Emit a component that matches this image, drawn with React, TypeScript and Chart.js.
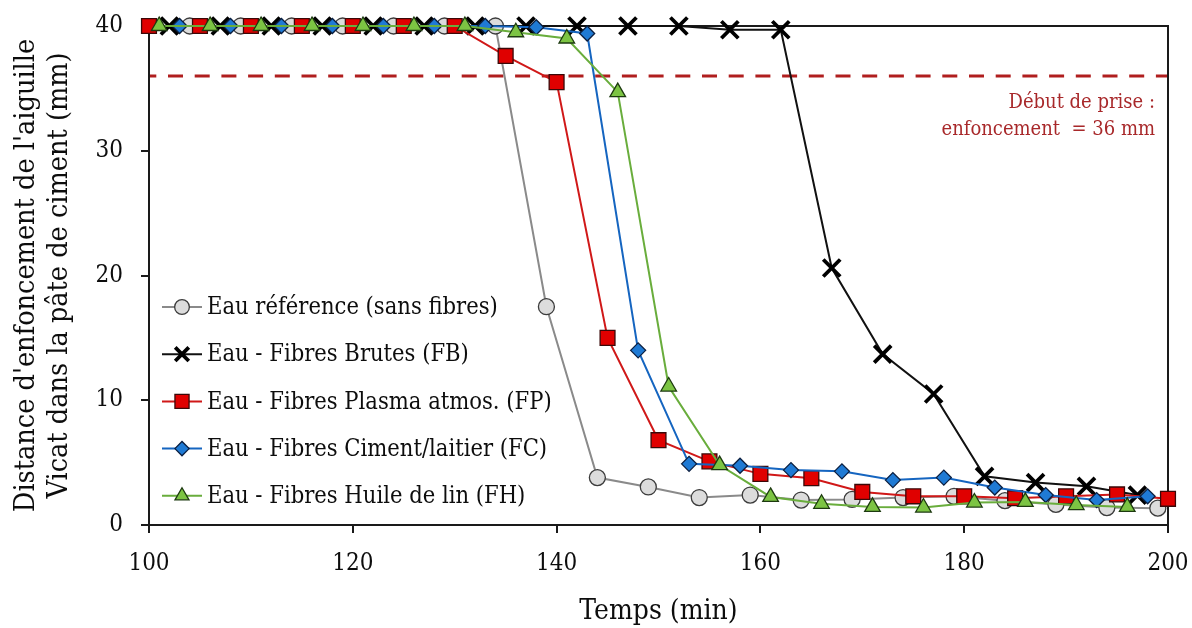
import React, { useEffect, useRef } from "react";
import { Chart, registerables } from "chart.js";
import { drawPoint } from "chart.js/helpers";

Chart.register(...registerables);

// ---------- Data ----------
const refTimes = [104, 109, 114, 119, 124, 129, 134, 139, 144, 149, 154, 159, 164, 169, 174, 179, 184, 189, 194, 199];
const refValues = [40, 40, 40, 40, 40, 40, 40, 17.5, 3.8, 3.05, 2.2, 2.4, 2.0, 2.05, 2.2, 2.3, 1.95, 1.65, 1.4, 1.35];

const fbTimes = [102, 107, 112, 117, 122, 127, 132, 137, 142, 147, 152, 157, 162, 167, 172, 177, 182, 187, 192, 197];
const fbValues = [40, 40, 40, 40, 40, 40, 40, 40, 40, 40, 40, 39.7, 39.7, 20.6, 13.7, 10.5, 3.9, 3.4, 3.1, 2.4];

const fpTimes = [100, 105, 110, 115, 120, 125, 130, 135, 140, 145, 150, 155, 160, 165, 170, 175, 180, 185, 190, 195, 200];
const fpValues = [40, 40, 40, 40, 40, 40, 40, 37.6, 35.5, 15.0, 6.8, 5.1, 4.1, 3.75, 2.65, 2.3, 2.3, 2.15, 2.3, 2.45, 2.1];

const fcTimes = [103, 108, 113, 118, 123, 128, 133, 138, 143, 148, 153, 158, 163, 168, 173, 178, 183, 188, 193, 198];
const fcValues = [40, 40, 40, 40, 40, 40, 40, 39.9, 39.4, 14.0, 4.9, 4.75, 4.4, 4.3, 3.6, 3.8, 3.0, 2.4, 2.0, 2.3];

const fhTimes = [101, 106, 111, 116, 121, 126, 131, 136, 141, 146, 151, 156, 161, 166, 171, 176, 181, 186, 191, 196];
const fhValues = [40, 40, 40, 40, 40, 40, 40, 39.5, 39.0, 34.7, 11.1, 4.8, 2.25, 1.7, 1.45, 1.4, 1.8, 1.85, 1.6, 1.45];

const seriesLabels = [
  "Eau référence (sans fibres)",
  "Eau - Fibres Brutes (FB)",
  "Eau - Fibres Plasma atmos. (FP)",
  "Eau - Fibres Ciment/laitier (FC)",
  "Eau - Fibres Huile de lin (FH)",
];

const xTicks = [100, 120, 140, 160, 180, 200];
const yTicks = [0, 10, 20, 30, 40];
const thresholdValue = 36;
const thresholdLabel = ["Début de prise :", "enfoncement  = 36 mm"];
const xTitle = "Temps (min)";
const yTitle = ["Distance d'enfoncement de l'aiguille", "Vicat dans la pâte de ciment (mm)"];

// ---------- Styles ----------
const FONT = '"DejaVu Serif Condensed", "DejaVu Serif", "Liberation Serif", serif';
const TEXT = "#0d0d0d";

const styles = [
  { borderColor: "#8a8a8a", pointStyle: "circle", pointRadius: 8, pointBackgroundColor: "#dcdcdc", pointBorderColor: "#3c3c3c", pointBorderWidth: 1.3, order: 5, legendScale: 0.92 },
  { borderColor: "#111111", pointStyle: "crossRot", pointRadius: 12, pointBackgroundColor: "#000000", pointBorderColor: "#000000", pointBorderWidth: 3.8, order: 4, legendScale: 0.8 },
  { borderColor: "#d01818", pointStyle: "rect", pointRadius: 10.5, pointBackgroundColor: "#e00000", pointBorderColor: "#3a0808", pointBorderWidth: 1.3, order: 3, legendScale: 0.95 },
  { borderColor: "#1565c0", pointStyle: "rectRot", pointRadius: 7.5, pointBackgroundColor: "#1f7ad4", pointBorderColor: "#0b1f40", pointBorderWidth: 1.3, order: 2, legendScale: 0.95 },
  { borderColor: "#69ad3c", pointStyle: "triangle", pointRadius: 9, pointBackgroundColor: "#7cc443", pointBorderColor: "#1d3a10", pointBorderWidth: 1.3, order: 1, legendScale: 0.9 },
];

const seriesTimes = [refTimes, fbTimes, fpTimes, fcTimes, fhTimes];
const seriesValues = [refValues, fbValues, fpValues, fcValues, fhValues];

const zeroPadding = (scale: any) => {
  scale.paddingLeft = 0;
  scale.paddingRight = 0;
  scale.paddingTop = 0;
  scale.paddingBottom = 0;
};

const overlayPlugin = {
  id: "overlay",
  beforeDatasetsDraw(chart: any) {
    const { ctx, chartArea } = chart;
    const y = chart.scales.y.getPixelForValue(thresholdValue);
    ctx.save();
    ctx.strokeStyle = "#b01e1e";
    ctx.lineWidth = 3;
    ctx.setLineDash([15, 11.7]);
    ctx.lineDashOffset = 7.7;
    ctx.beginPath();
    ctx.moveTo(chartArea.left, y);
    ctx.lineTo(chartArea.right, y);
    ctx.stroke();
    ctx.setLineDash([]);
    ctx.strokeStyle = "#1a1a1a";
    ctx.lineWidth = 2;
    ctx.strokeRect(chartArea.left, chartArea.top, chartArea.right - chartArea.left, chartArea.bottom - chartArea.top);
    ctx.restore();
  },
  afterDraw(chart: any) {
    const { ctx } = chart;
    ctx.save();
    const x0 = 162, x1 = 202, xm = 182, xt = 207;
    chart.data.datasets.forEach((ds: any, i: number) => {
      const y = 307 + 47.2 * i;
      ctx.strokeStyle = ds.borderColor;
      ctx.lineWidth = 2;
      ctx.beginPath();
      ctx.moveTo(x0, y);
      ctx.lineTo(x1, y);
      ctx.stroke();
      ctx.fillStyle = ds.pointBackgroundColor;
      ctx.strokeStyle = ds.pointBorderColor;
      ctx.lineWidth = ds.pointBorderWidth;
      drawPoint(ctx, { pointStyle: ds.pointStyle, rotation: 0, radius: ds.pointRadius * ds.legendScale, borderWidth: ds.pointBorderWidth } as any, xm, y);
      ctx.fillStyle = TEXT;
      ctx.font = `23.5px ${FONT}`;
      ctx.textAlign = "left";
      ctx.textBaseline = "middle";
      ctx.fillText(ds.label, xt, y + 1);
    });
    ctx.fillStyle = "#a8282a";
    ctx.font = `20px ${FONT}`;
    ctx.textAlign = "right";
    ctx.textBaseline = "alphabetic";
    ctx.fillText(thresholdLabel[0], 1155, 108);
    ctx.fillText(thresholdLabel[1], 1155, 135);
    ctx.restore();
  },
};

export default function App() {
  const canvasRef = useRef<HTMLCanvasElement>(null);
  useEffect(() => {
    const datasets = seriesLabels.map((label, i) => ({
      label,
      data: seriesTimes[i].map((t, k) => ({ x: t, y: seriesValues[i][k] })),
      borderWidth: 2,
      tension: 0,
      clip: false as any,
      ...styles[i],
    }));
    const chart = new Chart(canvasRef.current as HTMLCanvasElement, {
      type: "line",
      data: { datasets: datasets as any },
      options: {
        animation: false,
        responsive: false,
        devicePixelRatio: 1,
        layout: { padding: { left: 0, top: 26, right: 24, bottom: 0 } },
        plugins: { legend: { display: false }, tooltip: { enabled: false } },
        scales: {
          x: {
            type: "linear",
            min: 100,
            max: 200,
            afterBuildTicks: (scale: any) => {
              scale.ticks = xTicks.map((v) => ({ value: v }));
            },
            afterFit: (scale: any) => {
              scale.height = 103;
              zeroPadding(scale);
            },
            grid: { drawOnChartArea: false, drawTicks: true, tickLength: 8, color: "#1a1a1a", lineWidth: 2 },
            border: { display: false },
            ticks: { padding: 16, color: TEXT, font: { family: FONT, size: 24 }, maxRotation: 0 },
            title: { display: true, text: xTitle, color: TEXT, font: { family: FONT, size: 28, lineHeight: 1.18 }, padding: { top: 0, bottom: 0 } },
          },
          y: {
            type: "linear",
            min: 0,
            max: 40,
            afterBuildTicks: (scale: any) => {
              scale.ticks = yTicks.map((v) => ({ value: v }));
            },
            afterFit: (scale: any) => {
              scale.width = 149;
              zeroPadding(scale);
            },
            grid: { drawOnChartArea: false, drawTicks: true, tickLength: 8, color: "#1a1a1a", lineWidth: 2 },
            border: { display: false },
            ticks: { padding: 18, color: TEXT, font: { family: FONT, size: 24 } },
            title: { display: true, text: yTitle, color: TEXT, font: { family: FONT, size: 28.5, lineHeight: 1.15 }, padding: { top: 10, bottom: 0 } },
          },
        },
      },
      plugins: [overlayPlugin],
    });
    return () => chart.destroy();
  }, []);

  return (
    <div style={{ position: "fixed", left: 0, top: 0, width: 1192, height: 628, background: "#ffffff" }}>
      <canvas ref={canvasRef} width={1192} height={628} style={{ display: "block", width: 1192, height: 628 }} />
    </div>
  );
}
